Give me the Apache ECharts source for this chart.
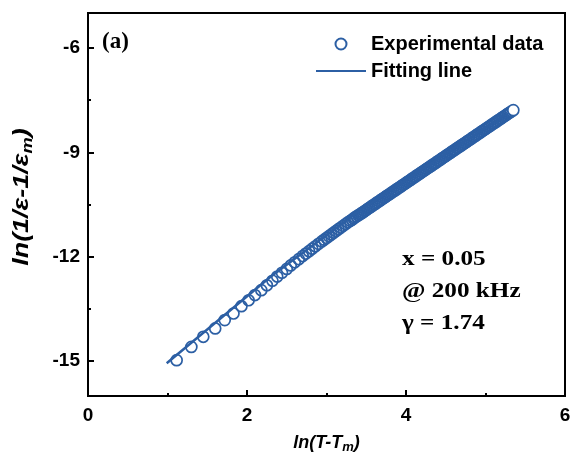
<!DOCTYPE html>
<html>
<head>
<meta charset="utf-8">
<script src="https://cdn.jsdelivr.net/npm/echarts@6/dist/echarts.min.js"></script>
<style>html,body{margin:0;padding:0;background:#fff}#c{width:574px;height:461px}</style>
</head>
<body>
<div id="c"></div>
<script>
// ---- data ----
const expX = [1.115,1.30,1.45,1.60,1.72,1.83,1.93,2.02,2.10,2.18,2.25,
  2.32,2.38,2.44,2.50,2.55,2.60,2.65,2.70,2.74,2.78,2.82,2.86,2.90,2.94,2.97,3.00,3.03,3.06,3.09,3.12,3.15,3.18,3.21,3.24,3.27,3.30,3.32,3.34,3.36,3.38,3.40,3.42,3.44,3.46,3.48,3.50,
  3.52,3.54,3.56,3.58,3.60,3.62,3.64,3.66,3.68,3.70,3.72,3.74,3.76,3.78,3.80,3.82,3.84,3.86,3.88,3.90,3.92,3.94,3.96,3.98,
  4.00,4.02,4.04,4.06,4.08,4.10,4.12,4.14,4.16,4.18,4.20,4.22,4.24,4.26,4.28,4.30,4.32,4.34,4.36,4.38,4.40,4.42,4.44,4.46,4.48,
  4.50,4.52,4.54,4.56,4.58,4.60,4.62,4.64,4.66,4.68,4.70,4.72,4.74,4.76,4.78,4.80,4.82,4.84,4.86,4.88,4.90,4.92,4.94,4.96,4.98,
  5.00,5.02,5.04,5.06,5.08,5.10,5.12,5.14,5.16,5.18,5.20,5.22,5.24,5.26,5.28,5.30,5.32,5.35];
const expY = [-14.97,-14.59,-14.30,-14.06,-13.82,-13.63,-13.42,-13.25,-13.10,-12.96,-12.82,
  -12.69,-12.57,-12.46,-12.35,-12.25,-12.16,-12.07,-11.98,-11.91,-11.84,-11.77,-11.70,-11.63,-11.56,-11.51,-11.46,-11.41,-11.36,-11.31,-11.26,-11.21,-11.16,-11.11,-11.06,-11.01,-10.97,-10.94,-10.90,-10.87,-10.84,-10.81,-10.78,-10.75,-10.72,-10.69,-10.66,
  -10.624,-10.593,-10.562,-10.531,-10.500,-10.469,-10.438,-10.407,-10.376,-10.345,-10.314,-10.283,-10.252,-10.221,-10.190,-10.159,-10.128,-10.097,-10.066,-10.035,-10.004,-9.973,-9.942,-9.911,
  -9.880,-9.849,-9.818,-9.787,-9.756,-9.725,-9.694,-9.663,-9.632,-9.601,-9.570,-9.539,-9.508,-9.477,-9.446,-9.415,-9.384,-9.353,-9.322,-9.291,-9.260,-9.229,-9.198,-9.167,-9.136,
  -9.105,-9.074,-9.043,-9.012,-8.981,-8.950,-8.919,-8.888,-8.857,-8.826,-8.795,-8.764,-8.733,-8.702,-8.671,-8.640,-8.609,-8.578,-8.547,-8.516,-8.485,-8.454,-8.423,-8.392,-8.361,
  -8.330,-8.299,-8.268,-8.237,-8.206,-8.175,-8.144,-8.113,-8.082,-8.051,-8.020,-7.989,-7.958,-7.927,-7.896,-7.865,-7.834,-7.790];
const fitX = [0.99, 2.30, 3.40, 5.25];
const fitY = [-15.06, -12.57, -10.70, -7.92];
const yMajorTicks = [-15, -12, -9, -6];
const yMinorTicks = [-13.5, -10.5, -7.5];
const seriesNames = ['Experimental data', 'Fitting line'];
const annotations = ['x = 0.05', '@ 200 kHz', 'γ = 1.74'];
const panelLabel = '(a)';

// ---- chart ----
const BLUE = '#2C5FA4';
const SANS = 'Liberation Sans, Arial, sans-serif';
const SERIF = 'Liberation Serif, Times New Roman, serif';
const expData = expX.map((x, i) => {
  const item = {value: [x, expY[i]]};
  if (i === expX.length - 1) item.itemStyle = {color: '#fff'};   // last open circle stays hollow on top
  return item;
});
const fitData = fitX.map((x, i) => [x, fitY[i]]);

const chart = echarts.init(document.getElementById('c'), null, {renderer: 'canvas'});
const nameRich = {
  a: {fontSize: 18, fontWeight: 'bold', fontStyle: 'italic', fontFamily: SANS, color: '#000', lineHeight: 22},
  s: {fontSize: 13, fontWeight: 'bold', fontStyle: 'italic', fontFamily: SANS, color: '#000', lineHeight: 13, padding: [9, 0, 0, 0]}
};
const yRich = {
  a: {fontSize: 22, fontWeight: 'bold', fontStyle: 'italic', fontFamily: SANS, fill: '#000', lineHeight: 26},
  s: {fontSize: 15, fontWeight: 'bold', fontStyle: 'italic', fontFamily: SANS, fill: '#000', lineHeight: 15, padding: [11, 0, 0, 0]}
};
const labelStyle = {color: '#000', fontSize: 19, fontWeight: 'bold', fontFamily: SANS};

chart.setOption({
  animation: false,
  backgroundColor: '#fff',
  grid: {left: 88, right: 9, top: 13, bottom: 65, show: true, borderColor: '#000', borderWidth: 2, backgroundColor: 'transparent'},
  legend: {
    orient: 'vertical', left: 315, top: 34, padding: 0, itemWidth: 50, itemHeight: 11, itemGap: 7,
    data: [
      {name: seriesNames[0], icon: 'emptyCircle', itemStyle: {color: BLUE, borderColor: BLUE, borderWidth: 1.7}},
      {name: seriesNames[1], icon: 'inherit', itemStyle: {color: 'transparent', borderColor: 'transparent', borderWidth: 0}}
    ],
    textStyle: {color: '#000', fontSize: 20, fontWeight: 'bold', fontFamily: SANS}
  },
  xAxis: {
    type: 'value', min: 0, max: 6, interval: 2,
    name: '{a|ln(T-T}{s|m}{a|)}', nameLocation: 'middle', nameGap: 36,
    nameTextStyle: {rich: nameRich},
    axisLine: {lineStyle: {color: '#000', width: 2}},
    axisTick: {inside: true, length: 6, lineStyle: {color: '#000', width: 2}},
    minorTick: {show: true, splitNumber: 2, length: 3, lineStyle: {color: '#000', width: 2}},
    axisLabel: Object.assign({margin: 10}, labelStyle),
    splitLine: {show: false}
  },
  yAxis: [{
    type: 'value', min: -16, max: -5,
    axisLine: {lineStyle: {color: '#000', width: 2}},
    axisTick: {inside: true, length: 6, customValues: yMajorTicks, lineStyle: {color: '#000', width: 2}},
    axisLabel: Object.assign({margin: 8, customValues: yMajorTicks}, labelStyle),
    splitLine: {show: false}
  }, {
    type: 'value', min: -16, max: -5, position: 'left',
    axisLine: {show: false},
    axisTick: {show: true, inside: true, length: 3, customValues: yMinorTicks, lineStyle: {color: '#000', width: 2}},
    axisLabel: {show: false},
    splitLine: {show: false}
  }],
  graphic: [
    {type: 'text', x: 22, y: 197, rotation: Math.PI / 2, scaleX: 1.22,
     style: {text: '{a|ln(1/ε-1/ε}{s|m}{a|)}', rich: yRich, align: 'center', verticalAlign: 'middle'}},
    {type: 'text', left: 102, top: 31, style: {text: panelLabel, font: 'bold 23px ' + SERIF, fill: '#000'}},
    {type: 'text', x: 402, y: 244, scaleX: 1.2, style: {text: annotations.join('\n'), font: 'bold 21px ' + SERIF, fill: '#000', lineHeight: 32}}
  ],
  series: [{
    name: seriesNames[0], type: 'scatter', data: expData,
    symbol: 'circle', symbolSize: 11,
    itemStyle: {color: 'transparent', borderColor: BLUE, borderWidth: 1.7, opacity: 1},
    z: 2
  }, {
    name: seriesNames[1], type: 'line', data: fitData,
    symbol: 'none', showSymbol: false,
    lineStyle: {color: BLUE, width: 2.5},
    itemStyle: {color: BLUE},
    z: 3
  }]
});
</script>
</body>
</html>
